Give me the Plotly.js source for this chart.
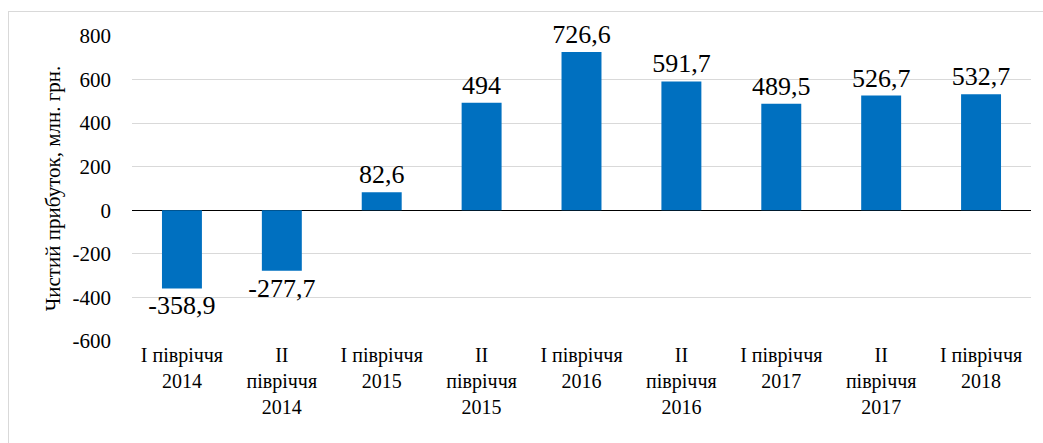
<!DOCTYPE html>
<html>
<head>
<meta charset="utf-8">
<script src="https://cdn.plot.ly/plotly-3.0.1.min.js"></script>
<style>
html,body{margin:0;padding:0;background:#fff;width:1043px;height:443px;overflow:hidden;}
#chart{position:absolute;left:0;top:0;width:1043px;height:443px;}
#frame{position:absolute;left:8px;top:11px;width:1035px;height:432px;box-sizing:border-box;border-top:1.5px solid #d9d9d9;border-left:1.5px solid #d9d9d9;pointer-events:none;}
</style>
</head>
<body>
<div id="chart"></div>
<div id="frame"></div>
<script>
const categories = [
  "I півріччя<br>2014", "II<br>півріччя<br>2014",
  "I півріччя<br>2015", "II<br>півріччя<br>2015",
  "I півріччя<br>2016", "II<br>півріччя<br>2016",
  "I півріччя<br>2017", "II<br>півріччя<br>2017",
  "I півріччя<br>2018"
];
const values = [-358.9, -277.7, 82.6, 494, 726.6, 591.7, 489.5, 526.7, 532.7];
const barLabels = values.map(v => String(v).replace('.', ','));
const yTickVals = [-600, -400, -200, 0, 200, 400, 600, 800];
const yTickText = yTickVals.map(v => String(v));
const yTitle = "Чистий прибуток, млн. грн.";

Plotly.newPlot('chart', [{
  type: 'bar',
  x: categories,
  y: values,
  text: barLabels,
  textposition: 'outside',
  constraintext: 'none',
  cliponaxis: false,
  textfont: {family: 'Liberation Serif', size: 26},
  marker: {color: '#0070C0'}
}], {
  width: 1043, height: 443,
  margin: {l: 132, r: 12, t: 36, b: 102},
  bargap: 0.6,
  showlegend: false,
  font: {family: 'Liberation Serif', size: 20, color: '#000'},
  xaxis: {
    showgrid: false,
    ticks: '',
    tickangle: 0,
    tickfont: {family: 'Liberation Serif', size: 20}
  },
  yaxis: {
    range: [-600, 800],
    tickvals: yTickVals,
    ticktext: yTickText,
    gridcolor: '#d9d9d9',
    zeroline: true,
    zerolinecolor: '#000',
    zerolinewidth: 1,
    ticks: '',
    ticklabelstandoff: 20,
    tickfont: {family: 'Liberation Serif', size: 21},
    title: {text: yTitle, font: {family: 'Liberation Serif', size: 21}, standoff: 6}
  }
}, {displayModeBar: false});
</script>
</body>
</html>
